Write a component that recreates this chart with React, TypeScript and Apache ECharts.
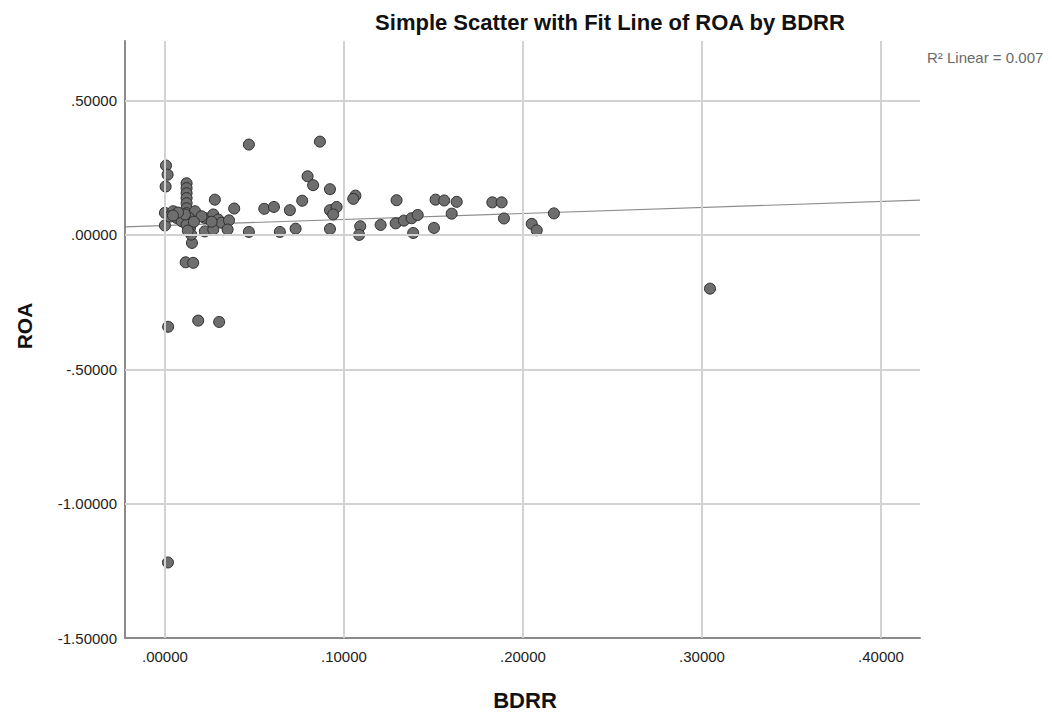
import React, { useEffect, useRef } from "react";
import * as echarts from "echarts";

const titleText = "Simple Scatter with Fit Line of ROA by BDRR";
const xName = "BDRR";
const yName = "ROA";
const r2Text = "R² Linear = 0.007";

const xTicks = [0, 0.1, 0.2, 0.3, 0.4];
const yTicks = [-1.5, -1.0, -0.5, 0, 0.5];
const xRange = [-0.0223, 0.4218];
const yRange = [-1.5, 0.7214];

// fit line: intercept and slope
const fitIntercept = 0.035;
const fitSlope = 0.223;

// BDRR values
const bdrr = [
  0.0006, 0.0015, 0.0004, 0.0, 0.0, 0.0018, 0.0017,
  0.0121, 0.0121, 0.0121, 0.0121, 0.0121, 0.0121, 0.0121, 0.0121,
  0.0116, 0.0158, 0.0151, 0.0186, 0.0303, 0.0469, 0.0866, 0.3045,
  0.0279, 0.0387, 0.0555, 0.0609, 0.0698, 0.0767, 0.0797, 0.0828, 0.0922, 0.0922,
  0.0959, 0.094, 0.1064, 0.1052, 0.1294, 0.1512, 0.156, 0.163, 0.1829, 0.1881, 0.2173,
  0.0469, 0.0642, 0.073, 0.0922, 0.1091, 0.1085, 0.1205, 0.1289, 0.1335, 0.1378,
  0.1412, 0.1387, 0.1503, 0.1602, 0.1894, 0.2049, 0.2077,
  0.0046, 0.0065, 0.013, 0.0168, 0.0093, 0.014, 0.0223, 0.027, 0.0298, 0.0223,
  0.027, 0.0317, 0.0358, 0.035, 0.0261, 0.0147, 0.0205, 0.0134,
  0.0121, 0.0128, 0.0112, 0.0162, 0.0028, 0.0073, 0.0045,
];

// ROA values
const roa = [
  0.258, 0.224, 0.18, 0.082, 0.035, -0.342, -1.219,
  0.192, 0.174, 0.155, 0.137, 0.118, 0.099, 0.081, 0.062,
  -0.102, -0.104, -0.03, -0.319, -0.324, 0.336, 0.347, -0.2,
  0.131, 0.098, 0.097, 0.104, 0.092, 0.127, 0.218, 0.185, 0.17, 0.092,
  0.104, 0.076, 0.146, 0.134, 0.129, 0.131, 0.128, 0.123, 0.121, 0.121, 0.08,
  0.011, 0.011, 0.023, 0.022, 0.032, 0.0, 0.037, 0.043, 0.053, 0.062,
  0.074, 0.007, 0.026, 0.079, 0.061, 0.041, 0.017,
  0.088, 0.063, 0.063, 0.088, 0.051, 0.026, 0.063, 0.076, 0.057, 0.013,
  0.02, 0.045, 0.054, 0.02, 0.049, 0.001, 0.069, 0.064,
  0.038, 0.016, 0.076, 0.049, 0.068, 0.083, 0.072,
];

const fmt = (v: number) => {
  let s = Math.abs(v).toFixed(5);
  if (s.startsWith("0")) s = s.slice(1);
  return (v < 0 ? "-" : "") + s;
};

export default function App() {
  const ref = useRef<HTMLDivElement>(null);
  useEffect(() => {
    if (!ref.current) return;
    const chart = echarts.init(ref.current, null, { renderer: "svg" });
    const points = bdrr.map((x, i) => [x, roa[i]]);
    const fit = [
      [xRange[0], fitIntercept + fitSlope * xRange[0]],
      [xRange[1], fitIntercept + fitSlope * xRange[1]],
    ];
    const font = "Liberation Sans, Arial, sans-serif";
    chart.setOption({
      animation: false,
      backgroundColor: "#ffffff",
      grid: { left: 125, right: 132, top: 41, bottom: 75, containLabel: false },
      graphic: [
        {
          type: "text",
          x: 610,
          y: 22,
          style: { text: titleText, font: `bold 22px ${font}`, fill: "#111", align: "center", verticalAlign: "middle" },
        },
        {
          type: "text",
          x: 927,
          y: 57,
          style: { text: r2Text, font: `15px ${font}`, fill: "#6a6a6a", verticalAlign: "middle" },
        },
        {
          type: "text",
          x: 525,
          y: 700,
          style: { text: xName, font: `bold 22px ${font}`, fill: "#111", align: "center", verticalAlign: "middle" },
        },
        {
          type: "text",
          x: 24,
          y: 326,
          rotation: Math.PI / 2,
          style: { text: yName, font: `bold 21px ${font}`, fill: "#111", align: "center", verticalAlign: "middle" },
        },
      ],
      xAxis: {
        type: "value",
        min: xRange[0],
        max: xRange[1],
        splitLine: { show: false },
        axisTick: { show: false },
        axisLine: { onZero: false, lineStyle: { color: "#8a8a8a", width: 2 } },
        axisLabel: {
          customValues: xTicks,
          formatter: fmt,
          color: "#222",
          fontSize: 15,
          fontFamily: font,
          margin: 11,
        },
      },
      yAxis: {
        type: "value",
        min: yRange[0],
        max: yRange[1],
        splitLine: { show: false },
        axisTick: { show: false },
        axisLine: { show: true, onZero: false, lineStyle: { color: "#8a8a8a", width: 2 } },
        axisLabel: {
          customValues: yTicks,
          formatter: fmt,
          color: "#222",
          fontSize: 15,
          fontFamily: font,
          margin: 8,
        },
      },
      series: [
        {
          type: "line",
          data: [],
          z: 1,
          silent: true,
          markLine: {
            silent: true,
            symbol: "none",
            label: { show: false },
            lineStyle: { color: "#d2d2d2", width: 2, type: "solid" },
            data: [
              ...xTicks.map((v) => ({ xAxis: v })),
              ...yTicks.filter((v) => v > yRange[0]).map((v) => ({ yAxis: v })),
            ],
          },
        },
        {
          type: "line",
          data: fit,
          z: 2,
          symbol: "none",
          silent: true,
          lineStyle: { color: "#8c8c8c", width: 1.2 },
        },
        {
          type: "scatter",
          data: points,
          z: 3,
          symbolSize: 11,
          itemStyle: { color: "#6e6e6e", borderColor: "#2e2e2e", borderWidth: 1, opacity: 1 },
        },
      ],
    });
    return () => chart.dispose();
  }, []);
  return <div ref={ref} style={{ width: 1052, height: 713, position: "absolute", left: 0, top: 0 }} />;
}
